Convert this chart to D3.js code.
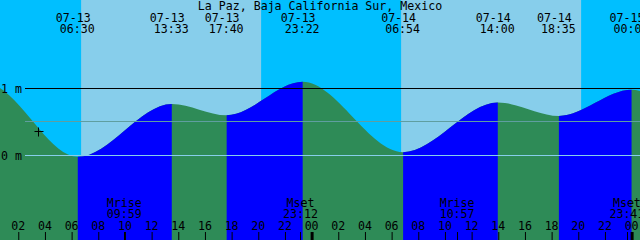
<!DOCTYPE html>
<html>
<head>
<meta charset="utf-8">
<script src="https://cdn.jsdelivr.net/npm/d3@7"></script>
<style>
  html, body { margin: 0; padding: 0; background: #fff; }
  svg { display: block; }
  text { font-family: "DejaVu Sans Mono", "Liberation Mono", monospace; font-size: 11.6px; fill: #000; }
</style>
</head>
<body>
<svg id="chart" width="640" height="240"></svg>
<script>
// ---- data ----
const title = "La Paz, Baja California Sur, Mexico";
const tideTimes   = ["07-12 16:50","07-12 23:35","07-13 06:30","07-13 13:33","07-13 17:40","07-13 23:22","07-14 06:54","07-14 14:00","07-14 18:35","07-15 00:02","07-15 07:40","07-15 14:40"];
const tideHeights = [0.62, 1.08, -0.02, 0.77, 0.60, 1.10, 0.05, 0.79, 0.59, 0.98, 0.08, 0.80];
const sunrise = ["07-13 06:45", "07-14 06:45"];
const sunset  = ["07-13 20:15", "07-14 20:15"];
const moonLabels = ["Mrise", "Mset", "Mrise", "Mset"];
const moonTimes  = ["07-13 09:59", "07-13 23:12", "07-14 10:57", "07-14 23:41"];
const levelLabels = ["0 m", "1 m"];
const levelValues = [0, 1];
const meanLevel = 0.52;
const markerTime = "07-13 03:31";
const markerHeight = 0.36;
const viewStart = "07-13 00:40", viewEnd = "07-15 00:40";

// ---- setup ----
const W = 640, H = 240;
const parse = d3.timeParse("%m-%d %H:%M");
const svg = d3.select("#chart");

const x = d3.scaleTime().domain([parse(viewStart), parse(viewEnd)]).range([0, W]);
const y = d3.scaleLinear().domain([0, 1]).range([155.5, 88.5]);

const tides = tideTimes.map((t, i) => ({ time: parse(t), h: tideHeights[i], label: t }));

// sky
svg.append("rect").attr("x", 0).attr("y", 0).attr("width", W).attr("height", H).attr("fill", "#00BFFF");
sunrise.forEach((s, i) => {
  const x0 = x(parse(s)), x1 = x(parse(sunset[i]));
  svg.append("rect").attr("x", x0).attr("y", 0).attr("width", x1 - x0).attr("height", H).attr("fill", "#87CEEB");
});

// rising clip
const defs = svg.append("defs");
const clip = defs.append("clipPath").attr("id", "rising");
for (let i = 0; i < tides.length - 1; i++) {
  if (tides[i + 1].h > tides[i].h) {
    const x0 = x(tides[i].time), x1 = x(tides[i + 1].time);
    clip.append("rect").attr("x", x0).attr("y", 0).attr("width", x1 - x0).attr("height", H);
  }
}

const area = d3.area()
  .x(d => x(d.time))
  .y0(H)
  .y1(d => y(d.h))
  .curve(d3.curveMonotoneX);

svg.append("path").datum(tides).attr("d", area).attr("fill", "#2E8B57");
svg.append("path").datum(tides).attr("d", area).attr("fill", "#0000FF").attr("clip-path", "url(#rising)");

// level lines
svg.append("line").attr("x1", 25).attr("x2", W).attr("y1", Math.round(y(meanLevel)) + 0.5).attr("y2", Math.round(y(meanLevel)) + 0.5)
  .attr("stroke", "#5F9EA0").attr("stroke-width", 1);
svg.append("line").attr("x1", 25).attr("x2", W).attr("y1", y(0)).attr("y2", y(0))
  .attr("stroke", "#87CEEB").attr("stroke-width", 1);
svg.append("line").attr("x1", 25).attr("x2", W).attr("y1", y(1)).attr("y2", y(1))
  .attr("stroke", "#000").attr("stroke-width", 1);

levelValues.forEach((v, i) => {
  svg.append("text").attr("x", 1).attr("y", y(v) + 4).text(levelLabels[i]);
});

// marker
const mx = Math.round(x(parse(markerTime))) + 0.5, my = Math.round(y(markerHeight)) + 0.5;
svg.append("line").attr("x1", mx - 4).attr("x2", mx + 5).attr("y1", my).attr("y2", my).attr("stroke", "#000");
svg.append("line").attr("x1", mx).attr("x2", mx).attr("y1", my - 4).attr("y2", my + 5).attr("stroke", "#000");

// title
svg.append("text").attr("x", W / 2).attr("y", 10).attr("text-anchor", "middle").text(title);

// tide labels
tides.forEach(d => {
  const xt = x(d.time);
  if (xt < 0 || xt > W) return;
  const [date, time] = d.label.split(" ");
  svg.append("text").attr("x", xt - 4.5).attr("y", 22).attr("text-anchor", "middle").text(date);
  svg.append("text").attr("x", xt - 0.5).attr("y", 33).attr("text-anchor", "middle").text(time);
});

// moon labels + ticks
moonTimes.forEach((m, i) => {
  const xm = x(parse(m));
  svg.append("text").attr("x", xm).attr("y", 206.5).attr("text-anchor", "middle").text(moonLabels[i]);
  svg.append("text").attr("x", xm).attr("y", 217.5).attr("text-anchor", "middle").text(m.split(" ")[1]);
  const xr = Math.round(xm) + 0.5;
  svg.append("line").attr("x1", xr).attr("x2", xr).attr("y1", 232).attr("y2", H).attr("stroke", "#000");
});

// hour axis
const hourTicks = d3.timeHour.every(2).range(x.domain()[0], x.domain()[1]);
const axis = d3.axisBottom(x).tickValues(hourTicks).tickFormat(d3.timeFormat("%H")).tickSize(8).tickPadding(0);
const g = svg.append("g").attr("transform", "translate(0,232)").call(axis);
g.select(".domain").remove();
g.selectAll(".tick line").attr("stroke", "#000")
  .attr("stroke-width", d => d.getHours() === 0 ? 3 : 1)
  .attr("transform", "translate(0.5,0)");
g.selectAll(".tick text").attr("y", -2).attr("dy", null).attr("fill", "#000")
  .style("font-family", "'DejaVu Sans Mono', monospace").style("font-size", "11.6px");
</script>
</body>
</html>
